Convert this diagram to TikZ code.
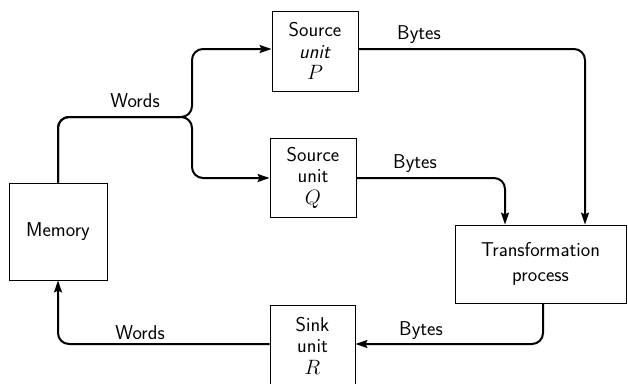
\documentclass[tikz,border=0pt]{standalone}
\usetikzlibrary{arrows.meta}
\newcommand{\bigmath}[1]{{\fontsize{22}{21}\selectfont$#1$}}
\begin{document}
\begin{tikzpicture}[x=1pt,y=-1pt,
  box/.style={draw,line width=0.9pt,inner sep=0pt,align=center,font=\sffamily\fontsize{20}{21.5}\selectfont},
  lbl/.style={inner sep=0pt,font=\sffamily\fontsize{20}{21}\selectfont},
  conn/.style={line width=2pt,rounded corners=11pt},
  tip/.style={-{Stealth[length=12pt,width=8pt,inset=2pt]}}]
\clip (0,0) rectangle (628,383);
\node[box,minimum width=98pt,minimum height=97pt] (mem) at (58,231.5) {Memory};
\node[box,minimum width=86pt,minimum height=80pt] (P) at (315,51) {Source\\\textit{unit}\\\bigmath{P}};
\node[box,minimum width=86pt,minimum height=79pt] (Q) at (313,177.5) {Source\\unit\\\bigmath{Q}};
\node[box,minimum width=171pt,minimum height=78pt,font=\sffamily\fontsize{20}{25}\selectfont] (T) at (540.5,264) {Transformation\\process};
\node[box,minimum width=85pt,minimum height=80pt] (R) at (312.5,345.5) {Sink\\unit\\\bigmath{R}};
\coordinate (J) at (192,117);
\draw[conn,tip] (mem.north) |- (J) |- (P.west |- 0,49);
\draw[conn,tip] (mem.north) |- (J) |- (Q.west |- 0,178);
\draw[conn,tip] (P.east |- 0,49) -| ([xshift=44.5pt]T.north);
\draw[conn,tip] (Q.east |- 0,178) -| ([xshift=-35.5pt]T.north);
\draw[conn,tip] ([xshift=2.5pt]T.south) |- (R.east |- 0,344);
\draw[conn,tip] (R.west |- 0,344) -| (mem.south);
\node[lbl] (w1) at (135,101) {Words};
\node[lbl] (b1) at (419,35) {Bytes};
\node[lbl] (b2) at (415,164) {Bytes};
\node[lbl] (b3) at (421,331) {Bytes};
\node[lbl] (w2) at (140,333) {Words};
\end{tikzpicture}
\end{document}
